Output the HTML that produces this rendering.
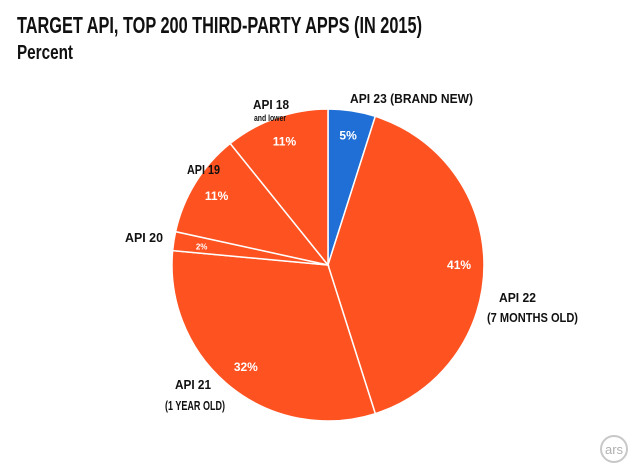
<!DOCTYPE html>
<html><head><meta charset="utf-8"><style>
html,body{margin:0;padding:0;background:#fff;width:640px;height:470px;overflow:hidden}
text{font-family:"Liberation Sans",sans-serif;font-weight:bold}
</style></head><body>
<svg id="chart" width="640" height="470" viewBox="0 0 640 470">
<text x="17" y="33" font-size="23" textLength="405" lengthAdjust="spacingAndGlyphs" fill="#111">TARGET API, TOP 200 THIRD-PARTY APPS (IN 2015)</text>
<text x="17" y="59" font-size="20" textLength="56" lengthAdjust="spacingAndGlyphs" fill="#111">Percent</text>
<g id="slices"></g>
<g id="labels"></g>
<g>
<circle cx="614" cy="449" r="13" fill="none" stroke="#c8c8c8" stroke-width="2"/>
<text x="614" y="454" font-size="13" text-anchor="middle" fill="#b0b0b0" style="font-weight:normal">ars</text>
</g>
</svg>
<script>
const categories=["API 23","API 22","API 21","API 20","API 19","API 18"];
const values=[5,41,32,2,11,11];
const valueLabels=["5%","41%","32%","2%","11%","11%"];
const colors=["#1f6fd6","#fe5221","#fe5221","#fe5221","#fe5221","#fe5221"];
const cx=328,cy=265,R=156;
const NS="http://www.w3.org/2000/svg";
const total=values.reduce((a,b)=>a+b,0);
const sg=document.getElementById('slices');
const lg=document.getElementById('labels');
function pt(a,r){return [cx+r*Math.sin(a),cy-r*Math.cos(a)];}
let acc=0;
values.forEach((v,i)=>{
  const a0=acc/total*2*Math.PI; acc+=v; const a1=acc/total*2*Math.PI;
  const p0=pt(a0,R),p1=pt(a1,R);
  const large=(a1-a0)>Math.PI?1:0;
  const p=document.createElementNS(NS,'path');
  p.setAttribute('d',`M${cx},${cy}L${p0[0]},${p0[1]}A${R},${R} 0 ${large} 1 ${p1[0]},${p1[1]}Z`);
  p.setAttribute('fill',colors[i]);p.setAttribute('stroke','#fff');p.setAttribute('stroke-width','1.5');
  
  
  sg.appendChild(p);
  const am=(a0+a1)/2;
  const lr=v<4?R*0.82:R*0.84;
  const q=pt(am,lr);
  const t=document.createElementNS(NS,'text');
  t.setAttribute('x',q[0]);t.setAttribute('y',q[1]+4);
  t.setAttribute('text-anchor','middle');t.setAttribute('fill','#fff');
  t.setAttribute('font-size',v<4?'8':'12');
  t.textContent=valueLabels[i];
  
  
  lg.appendChild(t);
});
const outer=[
 ["API 23  (BRAND NEW)",350,103,13,123],
 ["API 18",253,109,13,36],
 ["and lower",254,121,9,32],
 ["API 19",187,174,13,33],
 ["API 20",125,242,13,38],
 ["API 21",175,389,13,36],
 ["(1 YEAR OLD)",165,410,13,60],
 ["API 22",499,302,13,37],
 ["(7 MONTHS OLD)",487,322,13,91]
];
outer.forEach(o=>{
  const t=document.createElementNS(NS,'text');
  t.setAttribute('x',o[1]);t.setAttribute('y',o[2]);
  t.setAttribute('font-size',o[3]);t.setAttribute('fill','#111');
  t.setAttribute('textLength',o[4]);t.setAttribute('lengthAdjust','spacingAndGlyphs');
  t.textContent=o[0];
  
  
  lg.appendChild(t);
});
</script>
</body></html>
